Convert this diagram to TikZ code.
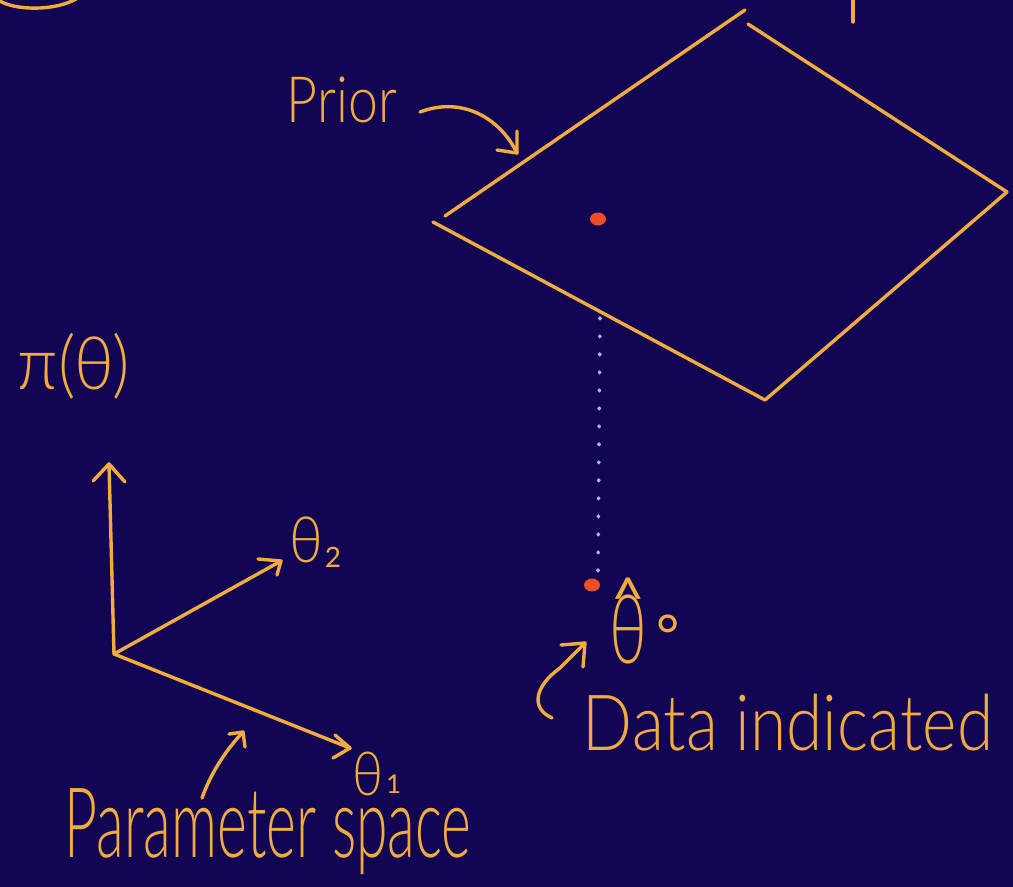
\documentclass[tikz,border=0pt]{standalone}
\usepackage{fontspec}
\setmainfont{Lato Light}
\newfontfamily\regfont{Lato}
\usepackage{graphicx}
\usetikzlibrary{shapes.geometric}
\definecolor{bgnavy}{RGB}{18,6,84}
\definecolor{chalk}{RGB}{242,172,62}
\definecolor{reddot}{RGB}{236,78,38}
\definecolor{dotline}{RGB}{185,175,225}
\newcommand\fitbox[3]{\resizebox*{#1pt}{#2pt}{#3}}
\newcommand\fsz[1]{\fontsize{#1}{#1}\selectfont}
\newcommand\tallth[2]{\scalebox{#1}[#2]{θ}}
\begin{document}
\begin{tikzpicture}[x=1pt,y=-1pt,
  ink/.style={draw=chalk,line width=3.4pt,line cap=round,line join=round},
  lbl/.style={text=chalk,inner sep=0pt,anchor=center},
  dotted line/.style={draw=dotline,line width=3.6pt,line cap=round,dash pattern=on 0.8pt off 17.2pt},
  spot/.style={fill=reddot,ellipse,minimum width=16pt,minimum height=13pt,inner sep=0pt}]
\useasboundingbox (0,0) rectangle (1013,887);
\fill[bgnavy] (0,0) rectangle (1013,887);
\clip (0,0) rectangle (1013,887);

% cut-off marks at the top edge
\coordinate (arcA) at (-2,0);
\coordinate (arcB) at (76,-1);
\draw[ink] (arcA) .. controls (15,11) and (55,11) .. (arcB);
\coordinate (topA) at (853,-2);
\coordinate (topB) at (853,22);
\draw[ink] (topA) -- (topB);

% prior diamond
\coordinate (dL1) at (445,216);
\coordinate (dT1) at (745,10);
\coordinate (dT2) at (748,24);
\coordinate (dR) at (1007,192);
\coordinate (dB) at (765,400);
\coordinate (dL2) at (433,222);
\draw[ink] (dL1) -- (dT1);
\draw[ink] (dT2) -- (dR) -- (dB) -- (dL2);

% red points and dotted drop line
\coordinate (dropTop) at (600,318);
\coordinate (dropBot) at (598,572);
\draw[dotted line] (dropTop) -- (dropBot);
\node[spot] (peak) at (598,219) {};
\node[spot] (est) at (592,585) {};

% Prior label and arrow
\node[lbl] (prior) at (342,100) {\fitbox{110}{46}{Prior}};
\coordinate (pa0) at (420,112);
\coordinate (pa1) at (517,153);
\draw[ink] (pa0) .. controls (462,96) and (500,118) .. (pa1);
\draw[ink] (517,131) -- (pa1) -- (497,150);

% axes
\node[lbl] (pi) at (74,366) {\fitbox{112}{66}{π(θ)}};
\coordinate (O) at (114,654);
\coordinate (yEnd) at (109,464);
\coordinate (t2End) at (281,561);
\coordinate (t1End) at (350,748);
\draw[ink] (O) -- (yEnd);
\draw[ink] (93,481) -- (yEnd) -- (125,482);
\draw[ink] (O) -- (t2End);
\draw[ink] (258,559) -- (t2End) -- (277,575);
\draw[ink] (O) -- (t1End);
\draw[ink] (335,735) -- (t1End) -- (333,758);
\node[lbl,anchor=base west] (th2) at (289,562) {\fsz{44}\tallth{1.3}{1.45}\kern2pt\raisebox{-5pt}{\regfont\fsz{28}2}};
\node[lbl,anchor=base west] (th1) at (352,795) {\fsz{42}\tallth{1.25}{1.45}\kern3pt\raisebox{2pt}{\regfont\fsz{26}1}};

% parameter space
\node[lbl] (param) at (268,832) {\fitbox{407}{86}{Parameter space}};
\coordinate (ps0) at (202,798);
\coordinate (ps1) at (243,732);
\draw[ink] (ps0) .. controls (212,770) and (228,748) .. (ps1);
\draw[ink] (229,734) -- (ps1) -- (245,747);

% theta hat
\node[lbl,anchor=base west] (thhat) at (609,663) {\fsz{64}\ooalign{\tallth{1.0}{1.5}\cr\hidewidth\raisebox{44pt}{\regfont\fsz{58}\textasciicircum}\hidewidth\cr}\kern10pt\raisebox{8pt}{\regfont\fsz{56}°}};
\node[lbl] (data) at (788,723) {\fitbox{410}{57}{Data indicated}};
\coordinate (da0) at (552,718);
\coordinate (da1) at (560,668);
\coordinate (da2) at (585,643);
\draw[ink] (da0) .. controls (530,708) and (535,686) .. (da1) -- (da2);
\draw[ink] (561,645) -- (da2) -- (583,667);
\end{tikzpicture}
\end{document}
